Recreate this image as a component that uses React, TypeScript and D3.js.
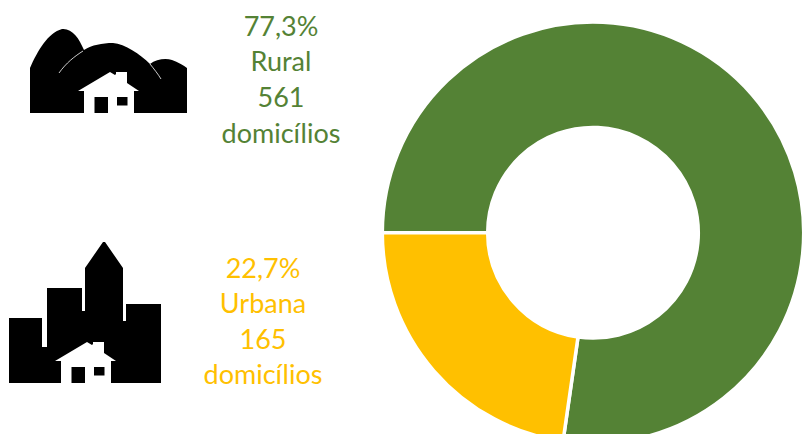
import React from "react";
import * as d3 from "d3";

const categories = ["Rural", "Urbana"];
const households = [561, 165];
const percentLabels = ["77,3%", "22,7%"];
const colors = ["#548235", "#FFC000"];
const unit = "domicílios";
const textCenters = [281, 263];
const textBaselines = [[36, 71, 107, 143], [278, 313, 349, 384]];

const W = 802, H = 434, CX = 593, CY = 232.8, R = 210.7, R0 = 105.3;

const pie = d3.pie<number>().sort(null).startAngle(1.5 * Math.PI).endAngle(3.5 * Math.PI);
const arc = d3.arc<d3.PieArcDatum<number>>().innerRadius(R0).outerRadius(R);

const House = ({ x, y }: { x: number; y: number }) => (
  <g transform={`translate(${x},${y})`}>
    <path d="M-32,0 L0,-19 L5,-16 L6,-17 L6,-19 L17,-19 L17,-8 L29,0 L24,0 L24,22 L-26,22 L-26,0 Z" fill="#fff" />
    <rect x={-15.5} y={6} width={13.5} height={16} fill="#000" />
    <rect x={7} y={6} width={10.5} height={8.5} fill="#000" />
  </g>
);

export default function App() {
  const arcs = pie(households);
  const lines = (i: number) => [percentLabels[i], categories[i], String(households[i]), unit];
  return (
    <svg width={W} height={H} style={{ position: "absolute", left: 0, top: 0 }} fontFamily="Lato, Carlito, sans-serif">
      <rect width={W} height={H} fill="#fff" />
      <g transform={`translate(${CX},${CY})`}>
        {arcs.map((a, i) => (
          <path key={i} d={arc(a) ?? ""} fill={colors[i]} stroke="#fff" strokeWidth={3.5} />
        ))}
      </g>

      {/* rural icon */}
      <path d="M30,113 L30,68 C38,50 48,33 62,29 C72,28 79,38 84,50 C92,45 102,43 113,43 C125,44 140,54 150,64 C156,59 166,58 172,60 C178,62 183,65 187,68 L187,113 Z" fill="#000" />
      <path d="M59,73 C66,63 75,56 83,51" fill="none" stroke="#fff" strokeWidth={0.8} />
      <path d="M150,64 C154,69 158,74 161,79" fill="none" stroke="#fff" strokeWidth={0.8} />
      <House x={110} y={91} />

      {/* urban icon */}
      <path d="M9,383 L9,318 L42,318 L42,347 L47,347 L47,288 L82,288 L82,311 L85,311 L85,268 L103,242 L105,242 L123,268 L123,321 L126,321 L126,304 L161,304 L161,383 Z" fill="#000" />
      <House x={87} y={361} />

      {categories.map((_, i) =>
        lines(i).map((t, j) => (
          <text key={`${i}-${j}`} x={textCenters[i]} y={textBaselines[i][j]} textAnchor="middle" fontSize={27} fill={colors[i]}>
            {t}
          </text>
        ))
      )}
    </svg>
  );
}
